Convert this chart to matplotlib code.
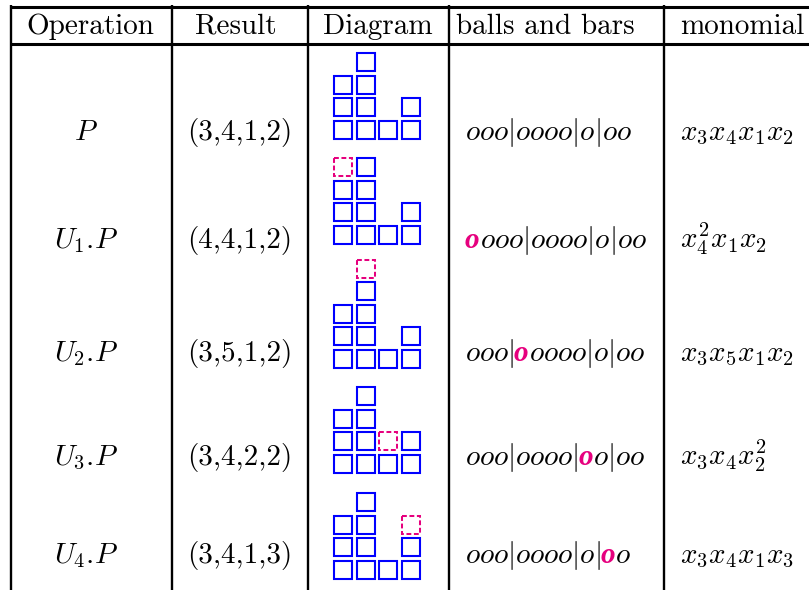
import matplotlib
matplotlib.use('Agg')
import matplotlib.pyplot as plt
from matplotlib.patches import Rectangle

plt.rcParams['mathtext.fontset'] = 'cm'

# ---------------- data ----------------
headers = ['Operation', 'Result', 'Diagram', 'balls and bars', 'monomial']
operations = ['P', 'U_1.\\!P', 'U_2.\\!P', 'U_3.\\!P', 'U_4.\\!P']
results = [(3, 4, 1, 2), (4, 4, 1, 2), (3, 5, 1, 2), (3, 4, 2, 2), (3, 4, 1, 3)]
moved_part = [None, 0, 1, 2, 3]   # index of the part that U_i increments
# balls and bars: text before the highlighted ball, highlighted ball, text after
balls_before = ['ooo|oooo|o|oo', '', 'ooo|', 'ooo|oooo|', 'ooo|oooo|o|']
balls_mark = ['', 'o', 'o', 'o', 'o']
balls_after = ['', 'ooo|oooo|o|oo', 'oooo|o|oo', 'o|oo', 'o']
monomials = ['x_3x_4x_1x_2', 'x_4^2x_1x_2', 'x_3x_5x_1x_2', 'x_3x_4x_2^2', 'x_3x_4x_1x_3']

# ---------------- style ----------------
BLUE = '#0000FF'
PINK = '#E6007E'
FS = 21
W, H = 809, 590

fig = plt.figure(figsize=(W / 100, H / 100), dpi=100)
ax = fig.add_axes([0, 0, 1, 1])
ax.set_xlim(0, W)
ax.set_ylim(H, 0)
ax.axis('off')

# table rules
vlines = [11, 172, 308, 449, 664]
for x in vlines:
    ax.plot([x, x], [5, H], color='black', lw=1.7, solid_capstyle='butt')
for y in [6.5, 43.5]:
    ax.plot([10, W], [y, y], color='black', lw=2.2, solid_capstyle='butt')

# header
hb = 33.5
ax.text(90, hb, headers[0], family='cmr10', fontsize=FS, ha='center', va='baseline')
ax.text(236, hb, headers[1], family='cmr10', fontsize=FS, ha='center', va='baseline')
ax.text(378, hb, headers[2], family='cmr10', fontsize=FS, ha='center', va='baseline')
ax.text(456, hb, headers[3], family='cmr10', fontsize=FS, ha='left', va='baseline')
ax.text(680, hb, headers[4], family='cmr10', fontsize=FS, ha='left', va='baseline')

baselines = [140, 248, 361, 465, 563]
diag_bottoms = [140, 245, 369, 474, 580]

renderer = fig.canvas.get_renderer()


def put_seq(x, y, pieces):
    for txt, kind in pieces:
        if not txt:
            continue
        if kind == 'm':
            t = ax.text(x, y, '$' + txt + '$', fontsize=FS, ha='left', va='baseline', color='black')
        else:
            t = ax.text(x, y, txt, fontsize=FS, ha='left', va='baseline', color=PINK,
                        family='Liberation Serif', style='italic', weight='bold')
        bb = t.get_window_extent(renderer)
        x += bb.width


pitch = 22.6
cell = 18.0
x0 = 334.3

for i, (op, r, mv) in enumerate(zip(operations, results, moved_part)):
    yb = baselines[i]
    ax.text(86, yb, '$' + op + '$', fontsize=FS, ha='center', va='baseline')
    ax.text(240, yb, '(' + ','.join(str(v) for v in r) + ')', family='cmr10',
            fontsize=FS, ha='center', va='baseline')

    # diagram
    bot = diag_bottoms[i]
    for c, h in enumerate(r):
        for j in range(h):
            dashed = (mv == c and j == h - 1)
            rx = x0 + c * pitch
            ry = bot - 1 - cell - j * pitch
            if dashed:
                rect = Rectangle((rx, ry), cell, cell, fill=False, edgecolor=PINK,
                                 lw=1.45, linestyle=(0, (2.4, 1.3)))
            else:
                rect = Rectangle((rx, ry), cell, cell, fill=False, edgecolor=BLUE, lw=1.5)
            ax.add_patch(rect)

    # balls and bars
    put_seq(465, yb, [(balls_before[i], 'm'), (balls_mark[i], 'b'), (balls_after[i], 'm')])

    # monomial
    ax.text(680, yb, '$' + monomials[i] + '$', fontsize=FS, ha='left', va='baseline')

fig.savefig('out.png', dpi=100)
